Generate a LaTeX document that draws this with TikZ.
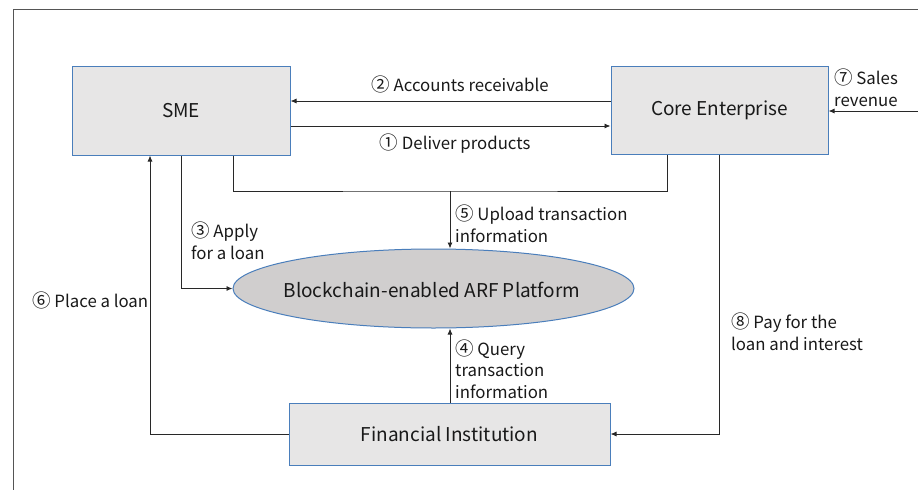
\documentclass[tikz,border=0pt]{standalone}
\usepackage{fontspec}
\setmainfont{Noto Sans CJK SC}
\usetikzlibrary{arrows.meta,shapes.geometric}

\definecolor{boxfill}{RGB}{231,230,230}
\definecolor{ellfill}{RGB}{208,206,206}
\definecolor{boxline}{RGB}{74,126,187}
\definecolor{wire}{RGB}{40,40,40}
\definecolor{framegray}{RGB}{85,85,85}
\definecolor{ink}{RGB}{25,25,25}

% circled step number, set a little larger than the label text
\newcommand\stepno[1]{{\fontsize{18.5}{21.5}\selectfont #1}}

\tikzset{
  party/.style={rectangle, draw=boxline, fill=boxfill, line width=1pt,
    inner sep=0pt, font=\fontsize{19}{22}\selectfont, text=ink},
  platform/.style={ellipse, draw=boxline, fill=ellfill, line width=1pt,
    inner sep=0pt, minimum width=401pt, minimum height=79pt},
  boxtext/.style={font=\fontsize{19}{22}\selectfont, text=ink, inner sep=0pt},
  flowlabel/.style={font=\fontsize{16.8}{21.5}\selectfont, text=ink,
    inner sep=0pt, align=left},
  wireline/.style={draw=wire, line width=0.9pt},
  flow/.style={wireline, -{Latex[length=6pt,width=5pt]}},
}

\begin{document}
\begin{tikzpicture}[x=1pt,y=-1pt]
\useasboundingbox (0,0) rectangle (918,490);

% outer frame (top and left edges)
\draw[framegray, line width=1.4pt] (918,9.5) -- (13.5,9.5) -- (13.5,490);

% participants
\node[party, minimum width=218pt, minimum height=89pt] (SME) at (181,110.5) {SME};
\node[party, minimum width=217pt, minimum height=88pt] (CE) at (719.5,110) {Core Enterprise};
\node[party, minimum width=321pt, minimum height=62pt] (FI) at (449.5,434) {Financial Institution};
\node[platform] (ARF) at (433.5,288.5) {};
\node[boxtext] (ARFtext) at (432,290) {Blockchain-enabled ARF Platform};

% helper coordinates for connector rows and columns
\coordinate (r2) at (0,101);
\coordinate (r1) at (0,126);
\coordinate (rev) at (918,111);
\coordinate (bus) at (450,191);
\coordinate (xa) at (233,0);
\coordinate (xb) at (667,0);
\coordinate (xc) at (181,0);
\coordinate (xd) at (150,0);

% trade flows between SME and core enterprise
\draw[flow] (CE.west |- r2) -- (SME.east |- r2);
\draw[flow] (SME.east |- r1) -- (CE.west |- r1);
\draw[flow] (rev) -- (rev -| CE.east);

% transaction upload bus
\draw[wireline] (xa |- SME.south) |- (bus) -| (xb |- CE.south);
\draw[flow] (bus) -- (bus |- ARF.north);

% loan application
\draw[flow] (xc |- SME.south) |- (ARF.west);

% query from financial institution
\draw[flow] (FI.north -| bus) -- (bus |- ARF.south);

% loan placement and repayment
\draw[flow] (FI.west) -| (xd |- SME.south);
\draw[flow] (CE.south) |- (FI.east);

% labels
\node[flowlabel] (l2) at (460,84) {\stepno{②} Accounts receivable};
\node[flowlabel] (l1) at (455,144) {\stepno{①} Deliver products};
\node[flowlabel, anchor=west] (l7) at (834,88) {\stepno{⑦} Sales\\revenue};
\node[flowlabel, anchor=west] (l3) at (191,241) {\stepno{③} Apply\\for a loan};
\node[flowlabel, anchor=west] (l5) at (455,224) {\stepno{⑤} Upload transaction\\information};
\node[flowlabel, anchor=west] (l4) at (455,369) {\stepno{④} Query\\transaction\\information};
\node[flowlabel, anchor=west] (l6) at (32,300) {\stepno{⑥} Place a loan};
\node[flowlabel, anchor=west] (l8) at (731,332) {\stepno{⑧} Pay for the\\loan and interest};
\end{tikzpicture}
\end{document}
